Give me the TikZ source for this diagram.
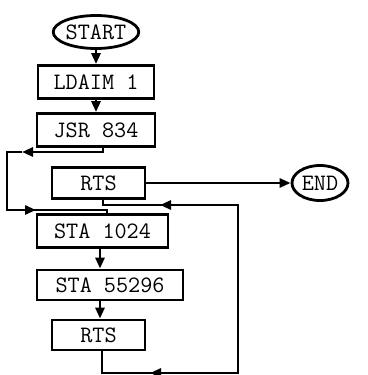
\documentclass[tikz,border=0pt]{standalone}
\usepackage{tikz}
\usetikzlibrary{arrows.meta,positioning,calc,shapes.geometric}

\begin{document}
\begin{tikzpicture}[x=1pt,y=-1pt,
    box/.style={draw,line width=2.8pt,minimum height=33pt,inner sep=0pt,font=\fontsize{23.5}{27}\selectfont\ttfamily},
    term/.style={draw,ellipse,line width=2.8pt,inner sep=0pt,font=\fontsize{23.5}{27}\selectfont\ttfamily},
    ln/.style={line width=2.8pt,line join=miter},
    a/.style={-{Triangle[length=11pt,width=9pt]},line width=2.8pt}]
    \useasboundingbox (0,0) rectangle (367,375);
    % program blocks
    \node[term,minimum width=78pt,minimum height=33pt] (s) at (96,32) {START};
    \node[box,minimum width=116pt] (l) at (96,82) {LDAIM 1};
    \node[box,minimum width=118pt] (j) at (96,130) {JSR 834};
    \node[box,minimum width=93pt,minimum height=31pt] (r1) at (98.5,183) {RTS};
    \node[term,minimum width=56pt,minimum height=35pt] (e) at (320,183) {END};
    \node[box,minimum width=131pt] (st1) at (102.5,231) {STA 1024};
    \node[box,minimum width=146pt,minimum height=30pt] (st2) at (110,285) {STA 55296};
    \node[box,minimum width=93pt,minimum height=30pt] (r2) at (98.5,335) {RTS};
    % bends
    \coordinate (c1) at (7,152); \coordinate (c2) at (7,210);
    \coordinate (t1) at (22,152); \coordinate (t2) at (36,210);
    \coordinate (c3) at (238,205); \coordinate (c4) at (238,373);
    \coordinate (t3) at (160,205); \coordinate (t4) at (150,373);
    % links
    \draw[a] (s) -- (l);
    \draw[a] (l) -- (j);
    \draw[a] ([xshift=7pt]j.south) |- (t1);
    \draw[ln] (t1) -- (c1) -- (c2) -- (t2);
    \draw[a] (c1 |- c2) -- (t2);
    \draw[ln] (t2) -| ([xshift=4.5pt]st1.north);
    \draw[a] (r1) -- (e);
    \draw[a] ([xshift=-2.5pt]st1.south) -- ([xshift=-10pt]st2.north);
    \draw[a] ([xshift=-10pt]st2.south) -- ([xshift=1.5pt]r2.north);
    \draw[ln] ([xshift=3.5pt]r2.south) |- (c4) -- (c3) -- (t3);
    \draw[a] (c4) -- (t4);
    \draw[a] (c3) -- (t3);
    \draw[ln] (t3) -| ([xshift=4.5pt]r1.south);
\end{tikzpicture}
\end{document}
